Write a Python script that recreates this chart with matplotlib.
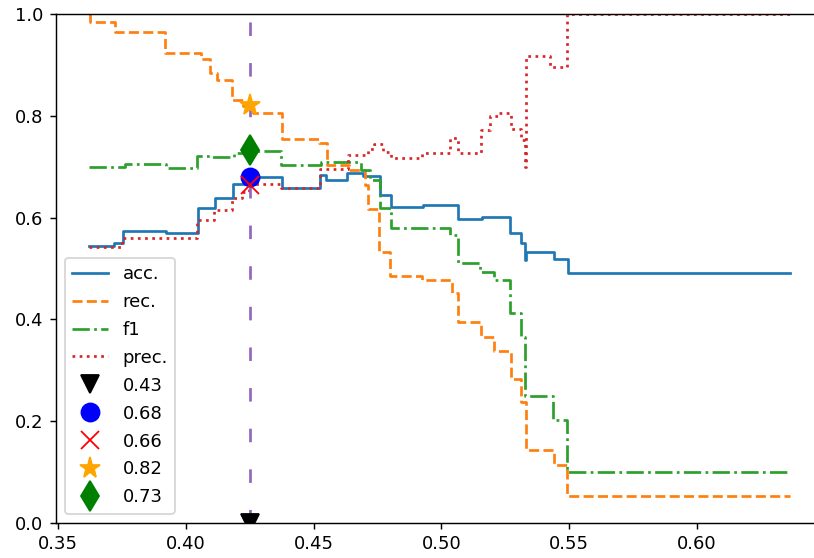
import matplotlib
matplotlib.use("Agg")
import matplotlib.pyplot as plt

# thresholds (step start points) and metric values
acc_x = [0.3622, 0.3720, 0.3753, 0.3922, 0.4047, 0.4114, 0.4186, 0.4235, 0.4375,
         0.4523, 0.4550, 0.4632, 0.4694, 0.4759, 0.4802, 0.4927, 0.5067, 0.5159,
         0.5270, 0.5310, 0.5329, 0.5331, 0.5441, 0.5494, 0.6365]
acc_y = [0.544, 0.550, 0.574, 0.570, 0.618, 0.639, 0.666, 0.679, 0.658,
         0.684, 0.675, 0.687, 0.681, 0.645, 0.620, 0.625, 0.597, 0.601,
         0.570, 0.550, 0.517, 0.533, 0.518, 0.492, 0.492]

rec_x = [0.3622, 0.3624, 0.3723, 0.3917, 0.4057, 0.4093, 0.4123, 0.4182, 0.4222,
         0.4262, 0.4375, 0.4522, 0.4553, 0.4640, 0.4699, 0.4713, 0.4757, 0.4800,
         0.4923, 0.5041, 0.5067, 0.5157, 0.5205, 0.5272, 0.5311, 0.5330, 0.5441,
         0.5491, 0.6365]
rec_y = [1.000, 0.984, 0.966, 0.923, 0.913, 0.884, 0.871, 0.831, 0.820,
         0.806, 0.754, 0.746, 0.704, 0.693, 0.664, 0.617, 0.533, 0.485,
         0.477, 0.451, 0.395, 0.366, 0.338, 0.282, 0.238, 0.143, 0.113,
         0.052, 0.052]

f1_x = [0.3622, 0.3760, 0.3920, 0.4044, 0.4097, 0.4188, 0.4235, 0.4372, 0.4527,
        0.4687, 0.4720, 0.4759, 0.4802, 0.5034, 0.5067, 0.5152, 0.5205, 0.5270,
        0.5311, 0.5329, 0.5437, 0.5490, 0.6365]
f1_y = [0.700, 0.705, 0.697, 0.721, 0.719, 0.728, 0.732, 0.704, 0.710,
        0.694, 0.674, 0.618, 0.579, 0.566, 0.511, 0.494, 0.477, 0.413,
        0.366, 0.249, 0.201, 0.100, 0.100]

prec_x = [0.3622, 0.3749, 0.4044, 0.4110, 0.4182, 0.4221, 0.4245, 0.4372, 0.4523,
          0.4635, 0.4713, 0.4738, 0.4772, 0.4802, 0.4923, 0.5034, 0.5064, 0.5156,
          0.5190, 0.5222, 0.5272, 0.5310, 0.5329, 0.5331, 0.5427, 0.5490, 0.6365]
prec_y = [0.542, 0.559, 0.595, 0.615, 0.638, 0.651, 0.666, 0.658, 0.695,
          0.723, 0.735, 0.745, 0.730, 0.717, 0.728, 0.756, 0.728, 0.772,
          0.799, 0.805, 0.774, 0.753, 0.700, 0.917, 0.897, 1.000, 1.000]

# best threshold and the metric values there
best_thr = 0.4252
best_acc = 0.680
best_prec = 0.664
best_rec = 0.822
best_f1 = 0.733

fig = plt.figure(figsize=(814 / 130, 558 / 130), dpi=130)
# right edge of the axes sits just past the image edge, as in the reference
ax = fig.add_axes([0.0684, 0.0633, 0.9429, 0.9111])

ax.plot(acc_x, acc_y, drawstyle="steps-post", label="acc.")
ax.plot(rec_x, rec_y, "--", drawstyle="steps-post", label="rec.")
ax.plot(f1_x, f1_y, "-.", drawstyle="steps-post", label="f1")
ax.plot(prec_x, prec_y, ":", drawstyle="steps-post", label="prec.")
ax.axvline(best_thr, color="C4", linestyle=(0, (5, 10)))

ax.plot(best_thr, 0, "v", color="black", markersize=10, linestyle="none",
        label=f"{best_thr:.2f}")
ax.plot(best_thr, best_acc, "o", color="blue", markersize=10, linestyle="none",
        label=f"{best_acc:.2f}")
ax.plot(best_thr, best_prec, "x", color="red", markersize=10, linestyle="none",
        label=f"{best_prec:.2f}")
ax.plot(best_thr, best_rec, "*", color="orange", markersize=12, linestyle="none",
        label=f"{best_rec:.2f}")
ax.plot(best_thr, best_f1, "d", color="green", markersize=12, linestyle="none",
        label=f"{best_f1:.2f}")

ax.set_xlim(0.34898, 0.6495)
ax.set_ylim(0, 1)
ax.spines["right"].set_visible(False)
ax.legend(loc="lower left", labelspacing=0.55)

fig.savefig("out.png", dpi=130)
